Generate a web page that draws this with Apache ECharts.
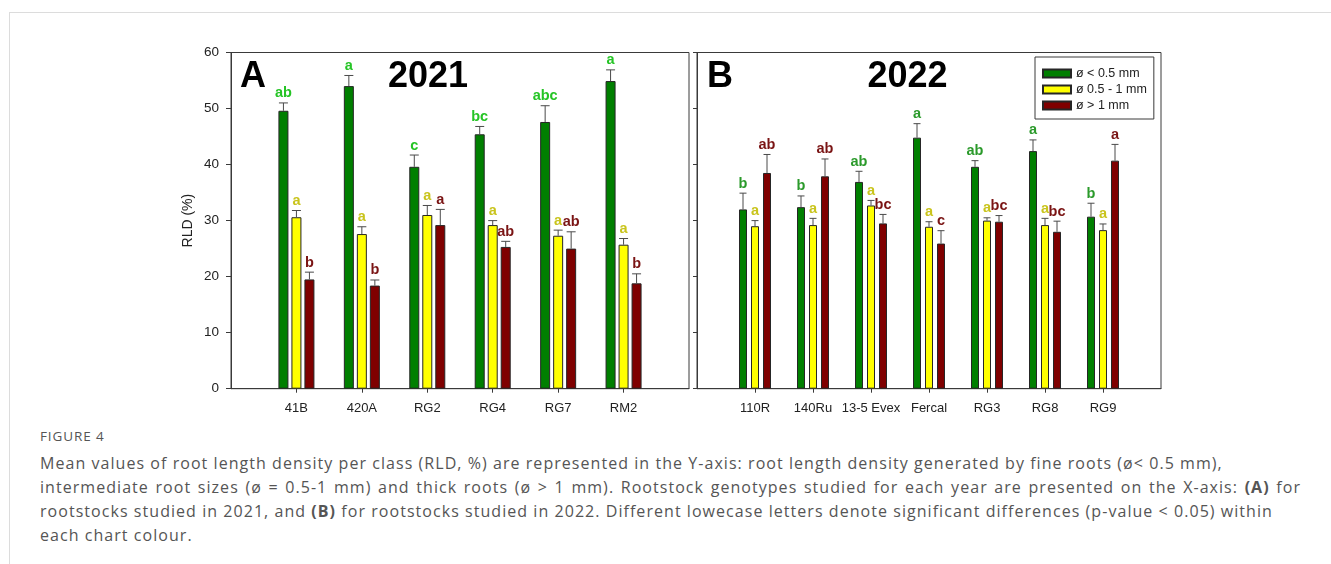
<!DOCTYPE html>
<html>
<head>
<meta charset="utf-8">
<script src="https://cdn.jsdelivr.net/npm/echarts@6/dist/echarts.min.js"></script>
<style>
  html, body { margin: 0; padding: 0; background: #fff; }
  body { width: 1331px; height: 564px; position: relative; overflow: hidden; }
  #frame { position: absolute; left: 9px; top: 12px; right: -2px; bottom: -2px;
           border-top: 1px solid #dcdcdc; border-left: 1px solid #dcdcdc; }
  #chart { position: absolute; left: 0; top: 0; width: 1331px; height: 420px; }
  .cap { position: absolute; left: 40px; font-family: "Open Sans", Lato, sans-serif; color: #555; }
  #figno { top: 427px; font-size: 13.5px; letter-spacing: 0.9px; }
  #captext { top: 451px; font-size: 16px; line-height: 24px; letter-spacing: 1.05px; white-space: nowrap; }
  #captext b { color: #555; }
  #captext .wide { word-spacing: 1.4px; }
</style>
</head>
<body>
<div id="frame"></div>
<div id="chart"></div>
<div class="cap" id="figno">FIGURE 4</div>
<div class="cap" id="captext">Mean values of root length density per class (RLD, %) are represented in the Y-axis: root length density generated by fine roots (ø&lt; 0.5 mm),<br><span class="wide">intermediate root sizes (ø = 0.5-1 mm) and thick roots (ø &gt; 1 mm). Rootstock genotypes studied for each year are presented on the X-axis: <b>(A)</b> for</span><br>rootstocks studied in 2021, and <b>(B)</b> for rootstocks studied in 2022. Different lowecase letters denote significant differences (p-value &lt; 0.05) within<br>each chart colour.</div>
<script>
// Rootstocks studied in 2021 (panel A)
const catsA = ['41B', '420A', 'RG2', 'RG4', 'RG7', 'RM2'];
const fineA = [49.6, 54.0, 39.6, 45.4, 47.6, 54.9];
const fineAErr = [1.4, 1.9, 2.1, 1.4, 2.9, 2.0];
const fineALet = ['ab', 'a', 'c', 'bc', 'abc', 'a'];
const midA = [30.6, 27.6, 31.0, 29.2, 27.3, 25.7];
const midAErr = [1.2, 1.3, 1.7, 0.8, 1.0, 1.1];
const midALet = ['a', 'a', 'a', 'a', 'a', 'a'];
const thickA = [19.5, 18.4, 29.2, 25.3, 25.0, 18.8];
const thickAErr = [1.3, 1.0, 2.8, 1.0, 3.0, 1.7];
const thickALet = ['b', 'b', 'a', 'ab', 'ab', 'b'];

// Rootstocks studied in 2022 (panel B)
const catsB = ['110R', '140Ru', '13-5 Evex', 'Fercal', 'RG3', 'RG8', 'RG9'];
const fineB = [32.0, 32.4, 36.9, 44.8, 39.6, 42.4, 30.7];
const fineBErr = [2.9, 2.0, 1.9, 2.5, 1.1, 2.0, 2.4];
const fineBLet = ['b', 'b', 'ab', 'a', 'ab', 'a', 'b'];
const midB = [29.0, 29.2, 32.7, 28.9, 30.0, 29.2, 28.3];
const midBErr = [1.0, 1.2, 0.9, 0.9, 0.5, 1.2, 1.1];
const midBLet = ['a', 'a', 'a', 'a', 'a', 'a', 'a'];
const thickB = [38.5, 37.9, 29.5, 25.9, 29.8, 28.0, 40.7];
const thickBErr = [3.3, 3.1, 1.6, 2.3, 1.1, 1.9, 2.9];
const thickBLet = ['ab', 'ab', 'bc', 'c', 'bc', 'bc', 'a'];

const yTicks = { min: 0, max: 60, interval: 10 };
const classNames = ['ø < 0.5 mm', 'ø 0.5 - 1 mm', 'ø > 1 mm'];
const barColors = ['#007f00', '#ffff00', '#7f0000'];

const FONT = '"Liberation Sans", Arial, sans-serif';
const AXIS = '#3a3a3a';

// Category lists padded with an empty slot at each end so the groups sit
// one full step in from the frame.
const padded = c => [''].concat(c, ['']);
const notBlank = (i, v) => v !== '';

function xAxisFor(gridIndex, cats) {
  return {
    type: 'category', gridIndex, data: padded(cats), boundaryGap: false,
    axisLine: { lineStyle: { color: AXIS, width: 1 } },
    axisTick: { length: 4, interval: notBlank, lineStyle: { color: AXIS } },
    axisLabel: { interval: notBlank, margin: 13, fontFamily: FONT, fontSize: 13, color: '#222' },
    splitLine: { show: false }
  };
}

function yAxisFor(gridIndex, labels) {
  return Object.assign({
    type: 'value', gridIndex,
    axisLine: { show: true, lineStyle: { color: AXIS, width: 1 } },
    axisTick: { show: true, length: labels ? 5 : 4, lineStyle: { color: AXIS } },
    axisLabel: { show: labels, margin: 12, fontFamily: FONT, fontSize: 13.5, color: '#222' },
    splitLine: { show: false }
  }, yTicks);
}

function bars(idx, name, values, color, width, gap) {
  return {
    type: 'bar', name, xAxisIndex: idx, yAxisIndex: idx,
    barWidth: width, barGap: gap,
    data: values.map((v, i) => [i + 1, v]),
    itemStyle: { color, borderColor: '#262626', borderWidth: 1 },
    z: 2
  };
}

// Upper error bar with its cap, topped by the significance letters.
function errors(idx, values, errs, letters, offset, cap, letterColor) {
  return {
    type: 'custom', xAxisIndex: idx, yAxisIndex: idx, z: 3,
    data: values.map((v, i) => [i + 1, v, errs[i]]),
    renderItem(params, api) {
      const c = api.value(0), v = api.value(1), e = api.value(2);
      const base = api.coord([c, v]);
      const top = api.coord([c, v + e]);
      const x = base[0] + offset;
      return {
        type: 'group',
        children: [
          { type: 'line', shape: { x1: x, y1: base[1], x2: x, y2: top[1] },
            style: { stroke: '#4a4a4a', lineWidth: 1 } },
          { type: 'line', shape: { x1: x - cap / 2, y1: top[1], x2: x + cap / 2, y2: top[1] },
            style: { stroke: '#4a4a4a', lineWidth: 1 } },
          { type: 'text', x: x, y: top[1] - 2,
            style: { text: letters[params.dataIndex], fill: letterColor,
                     font: 'bold 14.5px ' + FONT, align: 'center', verticalAlign: 'bottom' } }
        ]
      };
    }
  };
}

const letterColorsA = ['#25c425', '#c9c41c', '#7a1414'];
const letterColorsB = ['#2b9a2b', '#c9c41c', '#7a1414'];

const chart = echarts.init(document.getElementById('chart'), null, { renderer: 'canvas' });
chart.setOption({
  animation: false,
  grid: [
    { left: 231, top: 52.5, width: 458, height: 336.2, show: true, borderColor: AXIS, borderWidth: 1, backgroundColor: 'transparent' },
    { left: 697, top: 52.5, width: 464, height: 336.2, show: true, borderColor: AXIS, borderWidth: 1, backgroundColor: 'transparent' }
  ],
  xAxis: [xAxisFor(0, catsA), xAxisFor(1, catsB)],
  yAxis: [
    Object.assign(yAxisFor(0, true), {
      name: 'RLD (%)', nameLocation: 'middle', nameGap: 36,
      nameTextStyle: { fontFamily: FONT, fontSize: 14, color: '#222' }
    }),
    yAxisFor(1, false)
  ],
  legend: {
    orient: 'vertical', left: 1035, top: 57,
    data: classNames, icon: 'rect', itemWidth: 28, itemHeight: 8, itemGap: 3,
    padding: [10, 7, 7, 7], borderColor: AXIS, borderWidth: 1,
    selectedMode: false,
    textStyle: { fontFamily: FONT, fontSize: 12.5, color: '#222' }
  },
  graphic: [
    { type: 'text', x: 240, y: 77, style: { text: 'A', font: 'bold 36px ' + FONT, fill: '#000', verticalAlign: 'middle' } },
    { type: 'text', x: 428, y: 77, style: { text: '2021', font: 'bold 36px ' + FONT, fill: '#000', align: 'center', verticalAlign: 'middle' } },
    { type: 'text', x: 707, y: 77, style: { text: 'B', font: 'bold 36px ' + FONT, fill: '#000', verticalAlign: 'middle' } },
    { type: 'text', x: 907.5, y: 77, style: { text: '2022', font: 'bold 36px ' + FONT, fill: '#000', align: 'center', verticalAlign: 'middle' } }
  ],
  series: [
    bars(0, classNames[0], fineA, barColors[0], 10, '30%'),
    bars(0, classNames[1], midA, barColors[1], 10, '30%'),
    bars(0, classNames[2], thickA, barColors[2], 10, '30%'),
    errors(0, fineA, fineAErr, fineALet, -13, 9, letterColorsA[0]),
    errors(0, midA, midAErr, midALet, 0, 9, letterColorsA[1]),
    errors(0, thickA, thickAErr, thickALet, 13, 9, letterColorsA[2]),
    bars(1, classNames[0], fineB, barColors[0], 8, '50%'),
    bars(1, classNames[1], midB, barColors[1], 8, '50%'),
    bars(1, classNames[2], thickB, barColors[2], 8, '50%'),
    errors(1, fineB, fineBErr, fineBLet, -12, 7, letterColorsB[0]),
    errors(1, midB, midBErr, midBLet, 0, 7, letterColorsB[1]),
    errors(1, thickB, thickBErr, thickBLet, 12, 7, letterColorsB[2])
  ]
});
</script>
</body>
</html>
